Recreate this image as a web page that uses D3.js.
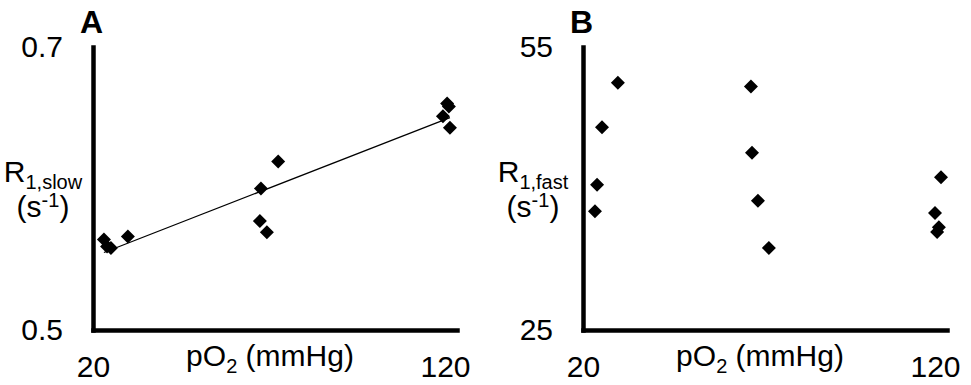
<!DOCTYPE html>
<html>
<head>
	<meta charset="UTF-8" />
	<title>R1 vs pO2</title>
	<script src="https://d3js.org/d3.v7.min.js"></script>
	<style>
		body { margin: 0; background: #fff; }
		svg { display: block; }
		text { font-family: Arial, "Liberation Sans", sans-serif; fill: #000; }
	</style>
</head>
<body>
	<svg id="chart" width="971" height="385"></svg>

	<script type="text/javascript">

	// panel A : R1,slow
	var pO2A   = [23.1, 24.0, 25.1, 29.9, 67.4, 69.4, 67.7, 72.6, 119.4, 120.6, 121.1, 121.4]
	var r1Slow = [0.564, 0.559, 0.558, 0.566, 0.577, 0.569, 0.600, 0.619, 0.651, 0.660, 0.658, 0.643]

	// panel B : R1,fast
	var pO2B   = [24.0, 23.4, 25.4, 29.9, 67.7, 68.0, 69.7, 72.8, 121.7, 120.0, 121.1, 120.6]
	var r1Fast = [40.4, 37.6, 46.5, 51.2, 50.8, 43.8, 38.7, 33.7, 41.2, 37.4, 35.9, 35.4]

	var xTicks    = [20, 120]
	var slowTicks = [0.5, 0.7]
	var fastTicks = [25, 55]

	var svg = d3.select("#chart")
	var yTop = 47, yBottom = 330

	function panel(opt){
		var xScale = d3.scaleLinear().domain([20, 123.4]).range([opt.left, opt.left + 364])
		var yScale = d3.scaleLinear().domain(opt.yDomain).range([yBottom, yTop])
		var g = svg.append("g")

		g.append("g")
			.attr("transform", "translate(0," + yBottom + ")")
			.call(d3.axisBottom(xScale).tickValues(xTicks).tickSize(0).tickSizeOuter(0).tickPadding(26).tickFormat(d3.format("d")))
		g.append("g")
			.attr("transform", "translate(" + opt.left + ",0)")
			.call(d3.axisLeft(yScale).tickValues(opt.yTicks).tickSize(0).tickSizeOuter(0).tickPadding(30).tickFormat(opt.fmt))

		g.selectAll(".domain")
			.attr("stroke", "#000")
			.attr("stroke-width", 4.5)
			.attr("stroke-linecap", "square")
		g.selectAll(".tick text")
			.style("font-size", "30px")
			.style("font-family", "Arial, 'Liberation Sans', sans-serif")
			.attr("fill", "#000")

		// trend line (least squares) only for panel A
		if (opt.trend) {
			var mx = d3.mean(opt.xs), my = d3.mean(opt.ys)
			var sxy = d3.sum(opt.xs, (x, i) => (x - mx) * (opt.ys[i] - my))
			var sxx = d3.sum(opt.xs, x => (x - mx) * (x - mx))
			var slope = sxy / sxx, icpt = my - slope * mx
			var ext = d3.extent(opt.xs)
			g.append("line")
				.attr("x1", xScale(ext[0])).attr("y1", yScale(icpt + slope * ext[0]))
				.attr("x2", xScale(ext[1])).attr("y2", yScale(icpt + slope * ext[1]))
				.attr("stroke", "#000")
				.attr("stroke-width", 1.2)
		}

		var diamond = d3.symbol().type(d3.symbolSquare).size(98)
		g.selectAll("path.pt")
			.data(opt.xs)
			.enter()
			.append("path")
			.attr("class", "pt")
			.attr("d", diamond)
			.attr("transform", (d, i) => "translate(" + xScale(d) + "," + yScale(opt.ys[i]) + ") rotate(45)")
			.attr("fill", "#000")

		// panel letter
		g.append("text")
			.attr("x", opt.left - 13).attr("y", 33)
			.style("font-size", "32px").style("font-weight", "bold")
			.text(opt.letter)

		// x axis title
		var xt = g.append("text")
			.attr("x", opt.left + 177).attr("y", 366)
			.attr("text-anchor", "middle")
			.style("font-size", "30px")
		xt.append("tspan").text("pO")
		xt.append("tspan").text("2").style("font-size", "20px").attr("dy", 7)
		xt.append("tspan").text(" (mmHg)").attr("dy", -7)

		// y axis title
		var yt = g.append("text")
			.attr("x", opt.left - 50).attr("y", 182)
			.attr("text-anchor", "middle")
			.style("font-size", "30px")
		yt.append("tspan").text("R")
		yt.append("tspan").text("1," + opt.sub).style("font-size", "20px").attr("dy", 7)

		var yt2 = g.append("text")
			.attr("x", opt.left - 50).attr("y", 217)
			.attr("text-anchor", "middle")
			.style("font-size", "30px")
		yt2.append("tspan").text("(s")
		yt2.append("tspan").text("-1").style("font-size", "20px").attr("dy", -10)
		yt2.append("tspan").text(")").attr("dy", 10)
	}

	panel({left: 93, xs: pO2A, ys: r1Slow, yDomain: [0.5, 0.7], yTicks: slowTicks,
		fmt: d3.format(".1f"), trend: true, letter: "A", sub: "slow"})
	panel({left: 583, xs: pO2B, ys: r1Fast, yDomain: [25, 55], yTicks: fastTicks,
		fmt: d3.format("d"), trend: false, letter: "B", sub: "fast"})

	</script>
</body>
</html>
